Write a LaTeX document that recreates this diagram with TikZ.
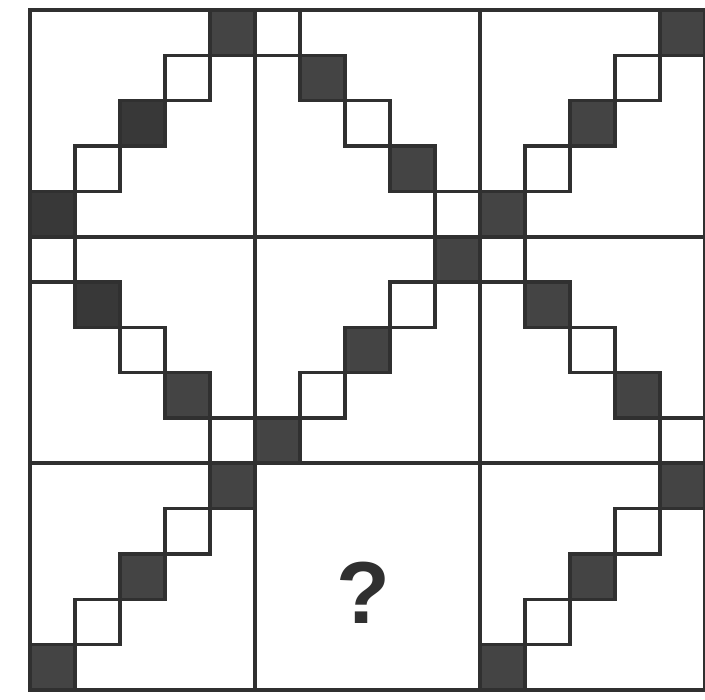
\documentclass[tikz,border=0pt]{standalone}
\usepackage{fontspec}
\setmainfont{Liberation Sans}
\definecolor{linec}{HTML}{303030}
\definecolor{darkc}{HTML}{383838}
\definecolor{stipc}{HTML}{444444}
\newcommand\sqbox[5]{\path[#5] ({30+(#1*5+#3)*45}, {10+(#2*5+#4)*45.333}) rectangle ++(45,45.333);}
\begin{document}
\begin{tikzpicture}[x=1pt,y=-1pt,
  ln/.style={draw=linec,line width=3.6pt},
  wsq/.style={ln,fill=white},
  bsq/.style={ln,fill=stipc},
  grid/.style={draw=linec,line width=3.8pt}]
\useasboundingbox (0,0) rectangle (705,700);
\fill[white] (0,0) rectangle (705,700);
% anti-diagonal cells
\foreach \cx/\cy in {0/0,2/0,1/1,0/2,2/2} {
  \foreach \c in {1,3} { \sqbox{\cx}{\cy}{\c}{4-\c}{wsq} }
  \foreach \c in {0,2,4} { \sqbox{\cx}{\cy}{\c}{4-\c}{bsq} }
}
% main-diagonal cells
\foreach \cx/\cy in {1/0,0/1,2/1} {
  \foreach \c in {0,2,4} { \sqbox{\cx}{\cy}{\c}{\c}{wsq} }
  \foreach \c in {1,3} { \sqbox{\cx}{\cy}{\c}{\c}{bsq} }
}
% darker solid squares
\sqbox{0}{0}{0}{4}{ln,fill=darkc}
\sqbox{0}{0}{2}{2}{ln,fill=darkc}
\sqbox{0}{1}{1}{1}{ln,fill=darkc}
% grid
\draw[grid] (30,10) rectangle (705,690);
\draw[grid] (255,10) -- (255,690);
\draw[grid] (480,10) -- (480,690);
\draw[grid] (30,236.667) -- (705,236.667);
\draw[grid] (30,463.333) -- (705,463.333);
% question mark
\node[text=linec,font=\fontsize{88}{88}\selectfont\bfseries] (q) at (363,593) {?};
\end{tikzpicture}
\end{document}
